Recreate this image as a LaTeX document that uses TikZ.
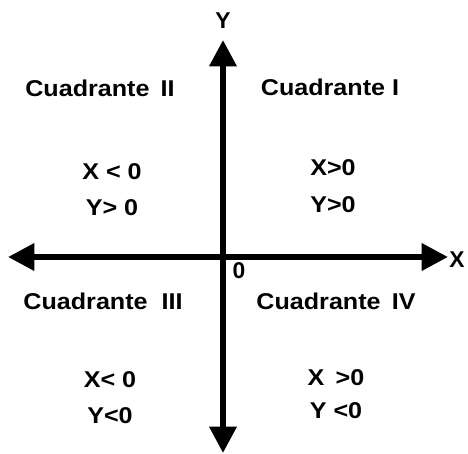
\documentclass[tikz,border=0pt]{standalone}
\usepackage{fontspec}
\setmainfont{Liberation Sans}
\usetikzlibrary{arrows.meta,positioning}

\begin{document}
\begin{tikzpicture}[x=0.02cm, y=-0.02cm, every node/.style={font=\bfseries\fontsize{13}{15}\selectfont, inner sep=1pt}]
\tikzset{axis/.style={line width=3.2pt, {Triangle[length=15pt,width=15pt]}-{Triangle[length=15pt,width=15pt]}}}
\tikzset{quad/.style={xscale=1.1}}
\tikzset{cond/.style={xscale=1.1}}
\useasboundingbox (0,0) rectangle (468,454);
% axes
\coordinate (xl) at (8,257);
\coordinate (xr) at (448,257);
\coordinate (yt) at (223,40);
\coordinate (yb) at (223,453);
\draw[axis] (xl) -- (xr);
\draw[axis] (yb) -- (yt);
\node (xlab) at (457,260) {X};
\node (ylab) at (223,21) {Y};
\node (orig) at (239,271) {0};
% quadrants
\node[quad] (q1) at (330,87) {Cuadrante I};
\node[quad] (q2) at (100,88) {Cuadrante\, II};
\node[quad] (q3) at (103,301) {Cuadrante~~III};
\node[quad] (q4) at (336,301) {Cuadrante\, IV};
\node[cond] (q1x) at (333,168) {X>0};
\node[cond, below=0.33cm of q1x] (q1y) {Y>0};
\node[cond] (q2x) at (112,172) {X < 0};
\node[cond, below=0.3cm of q2x] (q2y) {Y> 0};
\node[cond] (q3x) at (110,380) {X< 0};
\node[cond, below=0.3cm of q3x] (q3y) {Y<0};
\node[cond] (q4x) at (336,378) {X \,>0};
\node[cond, below=0.25cm of q4x] (q4y) {Y <0};
\end{tikzpicture}
\end{document}
